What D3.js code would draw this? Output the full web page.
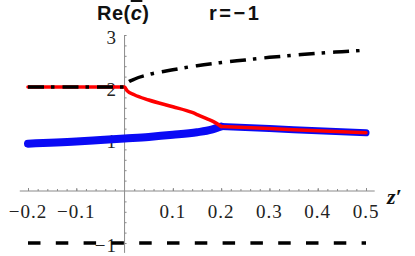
<!DOCTYPE html>
<meta charset="utf-8">
<script src="https://d3js.org/d3.v7.min.js"></script>
<style>
  body { margin: 0; background: #fff; }
</style>
<div id="my_dataviz"></div>
<script>
// data
var xTicks = [-0.2, -0.1, 0.1, 0.2, 0.3, 0.4, 0.5];
var xTickLabels = ["\u22120.2", "\u22120.1", "0.1", "0.2", "0.3", "0.4", "0.5"];
var yTicks = [-1, 1, 2, 3];
var yTickLabels = ["\u22121", "1", "2", "3"];

// upper root (black dash-dot): flat then rising
var zUpper = [-0.2, -0.1, 0, 0.005, 0.02, 0.05, 0.1, 0.15, 0.2, 0.25, 0.3, 0.35, 0.4, 0.45, 0.5];
var upperRoot = [2, 2, 2, 2.07, 2.15, 2.24, 2.33, 2.41, 2.47, 2.52, 2.57, 2.61, 2.65, 2.68, 2.71];

// middle root (red): flat, then dropping to the merge point
var zMiddle = [-0.2, -0.1, 0, 0.005, 0.02, 0.05, 0.1, 0.14, 0.155, 0.17, 0.185, 0.2];
var middleRoot = [2, 2, 2, 1.93, 1.85, 1.75, 1.62, 1.51, 1.45, 1.39, 1.33, 1.24];

// lower root (blue) before the merge point
var zLower = [-0.2, -0.1, -0.05, 0, 0.05, 0.1, 0.15, 0.18, 0.2];
var lowerRoot = [0.91, 0.95, 0.98, 1.01, 1.04, 1.08, 1.13, 1.18, 1.24];

// merged real part after z' = 0.2 (blue under red)
var zMerged = [0.2, 0.3, 0.4, 0.5];
var mergedRoot = [1.24, 1.2, 1.16, 1.12];

// constant root at -1 (black dashed)
var zConst = [-0.2, 0.5];
var constRoot = [-1, -1];

var width = 415, height = 256;

var svg = d3.select("#my_dataviz")
  .append("svg")
    .attr("width", width)
    .attr("height", height);

var x = d3.scaleLinear().domain([-0.2, 0.5]).range([28, 366]);
var y = d3.scaleLinear().domain([0, 3]).range([191, 35]);

var axisColor = "#8a8a8a";
var serif = "'Liberation Serif', 'Times New Roman', serif";
var sans = "'Liberation Sans', Arial, sans-serif";

// x axis line
svg.append("line")
  .attr("x1", x(-0.217)).attr("x2", x(0.518))
  .attr("y1", y(0)).attr("y2", y(0))
  .attr("stroke", axisColor).attr("stroke-width", 1);

// y axis line
svg.append("line")
  .attr("x1", x(0)).attr("x2", x(0))
  .attr("y1", y(3)).attr("y2", y(-1.19))
  .attr("stroke", axisColor).attr("stroke-width", 1);

// minor + major ticks on x (pointing up)
var xMinor = d3.range(-10, 26).map(function(i) { return i * 0.02; }).filter(function(d) { return Math.abs(d) > 1e-9; });
svg.append("g")
  .attr("transform", "translate(0," + y(0) + ")")
  .call(d3.axisTop(x).tickValues(xMinor).tickSize(2).tickFormat(""))
  .call(function(g) { g.select(".domain").remove(); })
  .selectAll("line").attr("stroke", axisColor);

svg.append("g")
  .attr("transform", "translate(0," + y(0) + ")")
  .call(d3.axisTop(x).tickValues(xTicks).tickSize(3).tickFormat(""))
  .call(function(g) { g.select(".domain").remove(); })
  .selectAll("line").attr("stroke", axisColor);

// ticks on y (pointing right)
var yMinor = d3.range(-5, 16).map(function(i) { return i * 0.2; }).filter(function(d) { return Math.abs(d) > 1e-9; });
svg.append("g")
  .attr("transform", "translate(" + x(0) + ",0)")
  .call(d3.axisRight(y).tickValues(yMinor).tickSize(2).tickFormat(""))
  .call(function(g) { g.select(".domain").remove(); })
  .selectAll("line").attr("stroke", axisColor);

// tick labels
svg.append("g").selectAll("text")
  .data(xTicks)
  .enter().append("text")
    .attr("x", function(d) { return x(d); })
    .attr("y", 217.5)
    .attr("text-anchor", "middle")
    .style("font-family", serif)
    .style("font-size", "19px")
    .style("letter-spacing", "1px")
    .attr("fill", "#222")
    .text(function(d, i) { return xTickLabels[i]; });

svg.append("g").selectAll("text")
  .data(yTicks)
  .enter().append("text")
    .attr("x", 117)
    .attr("y", function(d) { return y(d) + 9; })
    .attr("text-anchor", "end")
    .style("font-family", serif)
    .style("font-size", "19px")
    .style("letter-spacing", "1px")
    .attr("fill", "#222")
    .text(function(d, i) { return yTickLabels[i]; });

// curves
function lineFrom(zs, vs, curve) {
  return d3.line()
    .x(function(d) { return x(d[0]); })
    .y(function(d) { return y(d[1]); })
    .curve(curve || d3.curveMonotoneX)(d3.zip(zs, vs));
}

// blue lower branch
svg.append("path")
  .attr("d", lineFrom(zLower, lowerRoot))
  .attr("fill", "none").attr("stroke", "#0a0af5")
  .attr("stroke-width", 8).attr("stroke-linecap", "round");

svg.append("path")
  .attr("d", lineFrom(zMerged, mergedRoot))
  .attr("fill", "none").attr("stroke", "#0a0af5")
  .attr("stroke-width", 7).attr("stroke-linecap", "round");

// red middle branch
svg.append("path")
  .attr("d", lineFrom(zMiddle, middleRoot))
  .attr("fill", "none").attr("stroke", "#ff0000")
  .attr("stroke-width", 3.5).attr("stroke-linecap", "round");

svg.append("path")
  .attr("d", lineFrom(zMerged, mergedRoot))
  .attr("fill", "none").attr("stroke", "#ff0000")
  .attr("stroke-width", 3.5).attr("stroke-linecap", "round");

// black dash-dot upper branch
svg.append("path")
  .attr("d", lineFrom(zUpper, upperRoot))
  .attr("fill", "none").attr("stroke", "#000")
  .attr("stroke-width", 3.5)
  .attr("stroke-dasharray", "16,7,3.5,8");

// black dashed constant branch
svg.append("path")
  .attr("d", lineFrom(zConst, constRoot, d3.curveLinear))
  .attr("fill", "none").attr("stroke", "#000")
  .attr("stroke-width", 3.5)
  .attr("stroke-dasharray", "12.5,15.3");

// titles
var title = svg.append("text")
  .attr("x", 97).attr("y", 20)
  .style("font-family", sans)
  .style("font-size", "20px")
  .style("font-weight", "bold")
  .style("letter-spacing", "0.5px")
  .attr("fill", "#111");
title.append("tspan").text("Re(");
title.append("tspan")
  .style("font-style", "italic")
  .style("text-decoration", "overline")
  .text("c");
title.append("tspan").text(")");

svg.append("text")
  .attr("x", 209).attr("y", 20)
  .style("font-family", sans)
  .style("font-size", "20px")
  .style("font-weight", "bold")
  .style("letter-spacing", "2.5px")
  .attr("fill", "#111")
  .text("r=\u22121");

svg.append("text")
  .attr("x", 387).attr("y", 204)
  .style("font-family", serif)
  .style("font-size", "22px")
  .style("font-weight", "bold")
  .style("font-style", "italic")
  .attr("fill", "#111")
  .text("z\u2032");
</script>
